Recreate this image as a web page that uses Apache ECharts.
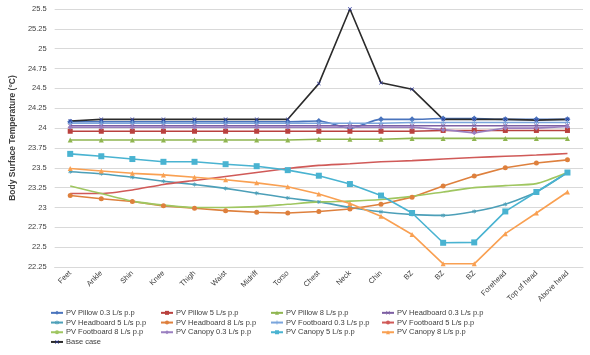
<!DOCTYPE html>
<html>
<head>
<meta charset="utf-8">
<script src="https://cdn.jsdelivr.net/npm/echarts@6/dist/echarts.min.js"></script>
<style>html,body{margin:0;padding:0;background:#fff}#c{width:590px;height:355px}</style>
</head>
<body>
<div id="c"></div>
<script>
var categories = ['Feet','Ankle','Shin','Knee','Thigh','Waist','Midriff','Torso','Chest','Neck','Chin','BZ','BZ','BZ','Forehead','Top of head','Above head'];

var pillow03    = [24.08,24.08,24.08,24.08,24.08,24.08,24.08,24.08,24.09,24.00,24.11,24.11,24.12,24.12,24.11,24.11,24.11];
var pillow5     = [23.96,23.96,23.96,23.96,23.96,23.96,23.96,23.96,23.96,23.96,23.96,23.96,23.97,23.97,23.97,23.97,23.97];
var pillow8     = [23.85,23.85,23.85,23.85,23.85,23.85,23.85,23.85,23.86,23.86,23.86,23.87,23.87,23.87,23.87,23.87,23.87];
var headboard03 = [24.03,24.03,24.03,24.03,24.03,24.03,24.03,24.03,24.03,24.03,24.03,24.03,24.03,24.03,24.03,24.03,24.03];
var headboard5  = [23.45,23.425,23.38,23.33,23.29,23.24,23.18,23.12,23.07,23.00,22.945,22.91,22.90,22.95,23.04,23.195,23.44];
var headboard8  = [23.15,23.11,23.075,23.02,22.99,22.96,22.94,22.93,22.95,22.98,23.04,23.13,23.27,23.395,23.50,23.56,23.60];
var footboard03 = [24.06,24.06,24.06,24.06,24.06,24.06,24.06,24.06,24.06,24.06,24.06,24.07,24.07,24.07,24.07,24.07,24.07];
var footboard5  = [23.175,23.175,23.22,23.29,23.34,23.39,23.44,23.49,23.53,23.55,23.575,23.59,23.61,23.63,23.645,23.66,23.68];
var footboard8  = [23.27,23.175,23.08,23.03,23.00,23.00,23.01,23.04,23.07,23.08,23.10,23.14,23.195,23.25,23.275,23.30,23.44];
var canopy03    = [24.01,24.01,24.01,24.01,24.01,24.01,24.01,24.01,24.01,24.01,24.01,24.01,23.98,23.94,24.00,24.00,24.02];
var canopy5     = [23.675,23.645,23.61,23.575,23.575,23.545,23.52,23.47,23.40,23.295,23.15,22.93,22.555,22.56,22.95,23.195,23.44];
var canopy8     = [23.49,23.46,23.43,23.41,23.38,23.35,23.31,23.26,23.17,23.05,22.89,22.66,22.29,22.29,22.67,22.93,23.195];
var baseCase    = [24.09,24.11,24.11,24.11,24.11,24.11,24.11,24.11,24.56,25.50,24.57,24.49,24.11,24.11,24.11,24.10,24.11];

var yMin = 22.25, yMax = 25.5, yStep = 0.25;

var FONT = "'Liberation Sans Narrow','Liberation Sans',sans-serif";
var X_SYM = 'path://M1,0L5,4L9,0L10,1L6,5L10,9L9,10L5,6L1,10L0,9L4,5L0,1Z';
var PLUS_SYM = 'path://M4,0H6V4H10V6H6V10H4V6H0V4H4Z';
var STAR_SYM = 'path://M4,0H6V3.6L8.6,1L10,2.4L7.4,5L10,7.6L8.6,9L6,6.4V10H4V6.4L1.4,9L0,7.6L2.6,5L0,2.4L1.4,1L4,3.6Z';

function mk(name, data, color, symbol, size, smooth, width) {
  return {
    name: name, type: 'line', data: data,
    symbol: symbol, symbolSize: size, showSymbol: symbol !== 'none',
    smooth: smooth || false,
    lineStyle: { color: color, width: width || 1.6 },
    itemStyle: { color: color },
    emphasis: { disabled: true }
  };
}

var series = [
  mk('PV Pillow 0.3 L/s p.p', pillow03, '#4a74bd', 'diamond', 6, 0.3),
  mk('PV Pillow 5 L/s p.p', pillow5, '#b9413e', 'rect', 5),
  mk('PV Pillow 8 L/s p.p', pillow8, '#8fb550', 'triangle', 5),
  mk('PV Headboard 0.3 L/s p.p', headboard03, '#7d5fa3', X_SYM, 5),
  mk('PV Headboard 5 L/s p.p', headboard5, '#4c9fb8', STAR_SYM, 4, 0.2),
  mk('PV Headboard 8 L/s p.p', headboard8, '#de803d', 'circle', 5),
  mk('PV Footboard 0.3 L/s p.p', footboard03, '#7aa5dc', PLUS_SYM, 5),
  mk('PV Footboard 5 L/s p.p', footboard5, '#d05a58', 'none', 0, 0.2),
  mk('PV Footboard 8 L/s p.p', footboard8, '#9fc660', 'none', 0, 0.2),
  mk('PV Canopy 0.3 L/s p.p', canopy03, '#9a7fc0', 'diamond', 5),
  mk('PV Canopy 5 L/s p.p', canopy5, '#49b3d1', 'rect', 6),
  mk('PV Canopy 8 L/s p.p', canopy8, '#f9a052', 'triangle', 5),
  mk('Base case', baseCase, '#2b2b2b', X_SYM, 4)
];
series[12].itemStyle = { color: '#28339a' };

function legendCol(left, names) {
  return {
    left: left, top: 308, orient: 'vertical',
    itemWidth: 12, itemHeight: 5, itemGap: 0,
    padding: 0,
    textStyle: { fontSize: 7.5, color: '#404040', fontFamily: FONT, lineHeight: 9.7, padding: [0, 0, 0, -2] },
    data: names
  };
}

var chart = echarts.init(document.getElementById('c'), null, { renderer: 'canvas' });
chart.setOption({
  animation: false,
  backgroundColor: '#ffffff',
  grid: { left: 46, right: 7, top: 9, bottom: 88, containLabel: false },
  legend: [
    legendCol(50, ['PV Pillow 0.3 L/s p.p', 'PV Headboard 5 L/s p.p', 'PV Footboard 8 L/s p.p', 'Base case']),
    legendCol(160, ['PV Pillow 5 L/s p.p', 'PV Headboard 8 L/s p.p', 'PV Canopy 0.3 L/s p.p']),
    legendCol(270, ['PV Pillow 8 L/s p.p', 'PV Footboard 0.3 L/s p.p', 'PV Canopy 5 L/s p.p']),
    legendCol(381, ['PV Headboard 0.3 L/s p.p', 'PV Footboard 5 L/s p.p', 'PV Canopy 8 L/s p.p'])
  ],
  xAxis: {
    type: 'category', data: categories, boundaryGap: true,
    axisLine: { show: true, lineStyle: { color: '#d9d9d9', width: 1 } },
    axisTick: { show: false },
    axisLabel: { rotate: 45, fontSize: 7.5, color: '#404040', fontFamily: FONT, interval: 0, margin: 5 }
  },
  yAxis: {
    type: 'value', min: yMin, max: yMax, interval: yStep,
    name: 'Body Surface Temperature (°C)', nameLocation: 'middle', nameGap: 30,
    nameTextStyle: { fontSize: 8.5, fontWeight: 'bold', color: '#404040', fontFamily: FONT },
    axisLine: { show: false }, axisTick: { show: false },
    axisLabel: { fontSize: 7.5, color: '#404040', fontFamily: FONT, margin: 8 },
    splitLine: { show: true, lineStyle: { color: '#d9d9d9', width: 1.2 } }
  },
  series: series
});
</script>
</body>
</html>
